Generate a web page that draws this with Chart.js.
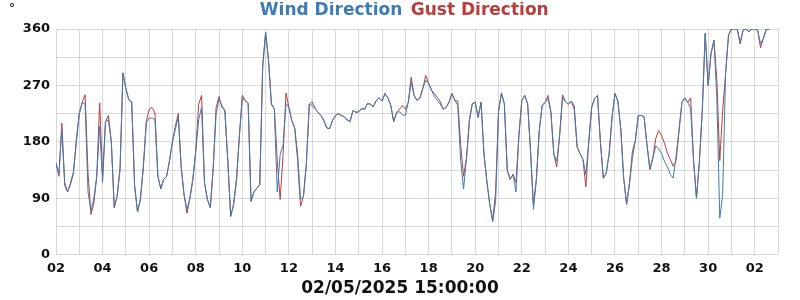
<!DOCTYPE html>
<html>
<head>
<meta charset="utf-8">
<script src="https://cdn.jsdelivr.net/npm/chart.js@4/dist/chart.umd.min.js"></script>
<style>
    body { margin: 0; background: #fff; }
    #wrap { width: 800px; height: 300px; position: relative; }
</style>
</head>
<body>
<div id="wrap"><canvas id="windChart"></canvas></div>
<script>
// 3-hourly readings, first one at 02 00:00, last at 02/05 15:00
const startDay = 2;
const stepHours = 3;

// wind direction (deg), one row per day
const windDir = [
    146, 128, 200, 115, 100, 115, 132, 180,
    225, 243, 240, 100, 70, 90, 125, 205,
    115, 212, 215, 180, 75, 93, 140, 290,
    265, 247, 244, 110, 68, 90, 140, 210,
    218, 218, 215, 125, 105, 120, 125, 150,
    180, 200, 220, 140, 95, 72, 90, 120,
    165, 215, 235, 115, 88, 75, 138, 225,
    248, 238, 230, 150, 61, 80, 117, 190,
    250, 246, 241, 85, 100, 106, 112, 300,
    355, 310, 240, 232, 100, 160, 175, 241,
    235, 214, 202, 160, 88, 93, 145, 240,
    238, 233, 227, 222, 214, 202, 201, 214,
    222, 225, 222, 220, 215, 212, 230, 227,
    228, 233, 232, 241, 240, 236, 246, 250,
    245, 257, 250, 238, 212, 227, 228, 223,
    222, 243, 275, 254, 246, 250, 265, 278,
    273, 262, 252, 246, 240, 232, 235, 243,
    257, 246, 238, 150, 105, 154, 214, 241,
    243, 219, 243, 161, 117, 80, 52, 85,
    228, 258, 241, 135, 120, 128, 100, 190,
    246, 254, 241, 165, 72, 120, 198, 238,
    243, 249, 227, 160, 149, 190, 251, 244,
    240, 245, 238, 172, 161, 152, 128, 180,
    235, 249, 254, 180, 122, 130, 161, 219,
    257, 245, 200, 122, 80, 114, 154, 182,
    222, 222, 220, 175, 136, 154, 173, 169,
    161, 149, 140, 128, 122, 157, 198, 243,
    250, 243, 233, 150, 90, 149, 230, 353,
    270, 321, 342, 250, 58, 96, 289, 350,
    360, 360, 360, 339, 358, 360, 356, 360,
    360, 358, 337, 345, 360, 360
];

// gust direction (deg)
const gustDir = [
    146, 125, 210, 110, 100, 112, 130, 185,
    225, 243, 255, 130, 64, 82, 125, 242,
    125, 212, 222, 180, 75, 93, 135, 290,
    265, 247, 244, 110, 68, 88, 140, 212,
    232, 235, 226, 125, 105, 120, 125, 150,
    180, 205, 225, 140, 95, 66, 90, 120,
    165, 240, 254, 115, 88, 75, 138, 235,
    252, 235, 230, 150, 61, 80, 122, 190,
    254, 246, 241, 85, 100, 106, 112, 300,
    355, 310, 240, 232, 150, 88, 160, 258,
    235, 214, 202, 150, 77, 93, 145, 240,
    244, 233, 227, 222, 214, 202, 201, 214,
    222, 225, 222, 220, 215, 212, 230, 227,
    228, 233, 232, 241, 240, 236, 246, 250,
    245, 257, 250, 238, 212, 227, 232, 238,
    232, 243, 283, 254, 246, 250, 265, 286,
    273, 262, 257, 251, 244, 232, 235, 243,
    257, 246, 245, 175, 125, 154, 214, 241,
    243, 219, 243, 161, 117, 80, 55, 100,
    228, 258, 241, 135, 120, 128, 115, 190,
    246, 254, 241, 165, 80, 120, 198, 238,
    243, 254, 227, 160, 140, 190, 255, 244,
    240, 245, 232, 172, 161, 152, 108, 180,
    235, 249, 254, 180, 122, 130, 161, 219,
    257, 245, 200, 122, 80, 114, 165, 182,
    222, 222, 220, 175, 136, 154, 185, 198,
    190, 178, 162, 152, 141, 150, 198, 243,
    250, 243, 250, 150, 90, 149, 230, 353,
    270, 321, 342, 278, 150, 230, 289, 350,
    360, 360, 360, 336, 358, 360, 356, 360,
    360, 358, 330, 345, 360, 360
];

// x tick labels for day 2 .. day 33 (April 2 .. May 3)
const dayLabels = [
    '02', '', '04', '', '06', '', '08', '', '10', '', '12', '', '14', '', '16', '',
    '18', '', '20', '', '22', '', '24', '', '26', '', '28', '', '30', '', '02', ''
];
const yLabels = ['0', '90', '180', '270', '360'];

const seriesNames = ['Wind Direction', 'Gust Direction'];
const seriesColors = ['#3d7cb4', '#b83d3d'];
const stampText = '02/05/2025 15:00:00';

const times = windDir.map((_, i) => startDay + i * stepHours / 24);
const toPoints = arr => arr.map((v, i) => ({ x: times[i], y: v }));

const gridColor = '#d9d9d9';
const tickFont = { family: '"DejaVu Sans", sans-serif', size: 13, weight: 'bold' };

// small degree sign in the top-left corner
const degreeMark = {
    id: 'degreeMark',
    afterDraw(chart) {
        const ctx = chart.ctx;
        ctx.save();
        ctx.font = 'bold 12px "DejaVu Sans"';
        ctx.fillStyle = '#222';
        ctx.textBaseline = 'top';
        ctx.fillText('°', 9, 3);
        ctx.restore();
    }
};

new Chart(document.getElementById('windChart'), {
    type: 'line',
    data: {
        datasets: [
            {
                label: seriesNames[0],
                data: toPoints(windDir),
                borderColor: seriesColors[0],
                borderWidth: 1,
                pointRadius: 0,
                tension: 0
            },
            {
                label: seriesNames[1],
                data: toPoints(gustDir),
                borderColor: seriesColors[1],
                borderWidth: 1,
                pointRadius: 0,
                tension: 0
            }
        ]
    },
    options: {
        responsive: true,
        maintainAspectRatio: false,
        animation: false,
        layout: { padding: { left: 22, right: 22, top: 2, bottom: 0 } },
        scales: {
            x: {
                type: 'linear',
                min: 2,
                max: 33,
                grid: { color: gridColor, drawTicks: false },
                border: { color: gridColor },
                ticks: {
                    stepSize: 1,
                    autoSkip: false,
                    maxRotation: 0,
                    padding: 6,
                    color: '#111',
                    font: tickFont,
                    callback: v => dayLabels[v - 2] ?? ''
                },
                afterFit: scale => { scale.height = 22; }
            },
            y: {
                min: 0,
                max: 360,
                grid: { color: gridColor, drawTicks: false },
                border: { color: gridColor },
                ticks: {
                    stepSize: 45,
                    padding: 6,
                    color: '#111',
                    font: tickFont,
                    callback: v => (v % 90 === 0 ? yLabels[v / 90] : '')
                },
                afterFit: scale => { scale.width = 34; }
            }
        },
        plugins: {
            legend: {
                position: 'top',
                labels: {
                    boxWidth: 0,
                    padding: 0,
                    font: { family: '"DejaVu Sans", sans-serif', size: 17, weight: 'bold' },
                    generateLabels: chart => chart.data.datasets.map((ds, i) => ({
                        text: ds.label,
                        fontColor: seriesColors[i],
                        fillStyle: 'rgba(0,0,0,0)',
                        strokeStyle: 'rgba(0,0,0,0)',
                        lineWidth: 0,
                        hidden: false,
                        datasetIndex: i
                    }))
                }
            },
            title: {
                display: true,
                position: 'bottom',
                text: stampText,
                color: '#111',
                font: { family: '"DejaVu Sans", sans-serif', size: 17, weight: 'bold' },
                padding: { top: 2, bottom: 1 }
            },
            tooltip: { enabled: false }
        }
    },
    plugins: [degreeMark]
});
</script>
</body>
</html>
